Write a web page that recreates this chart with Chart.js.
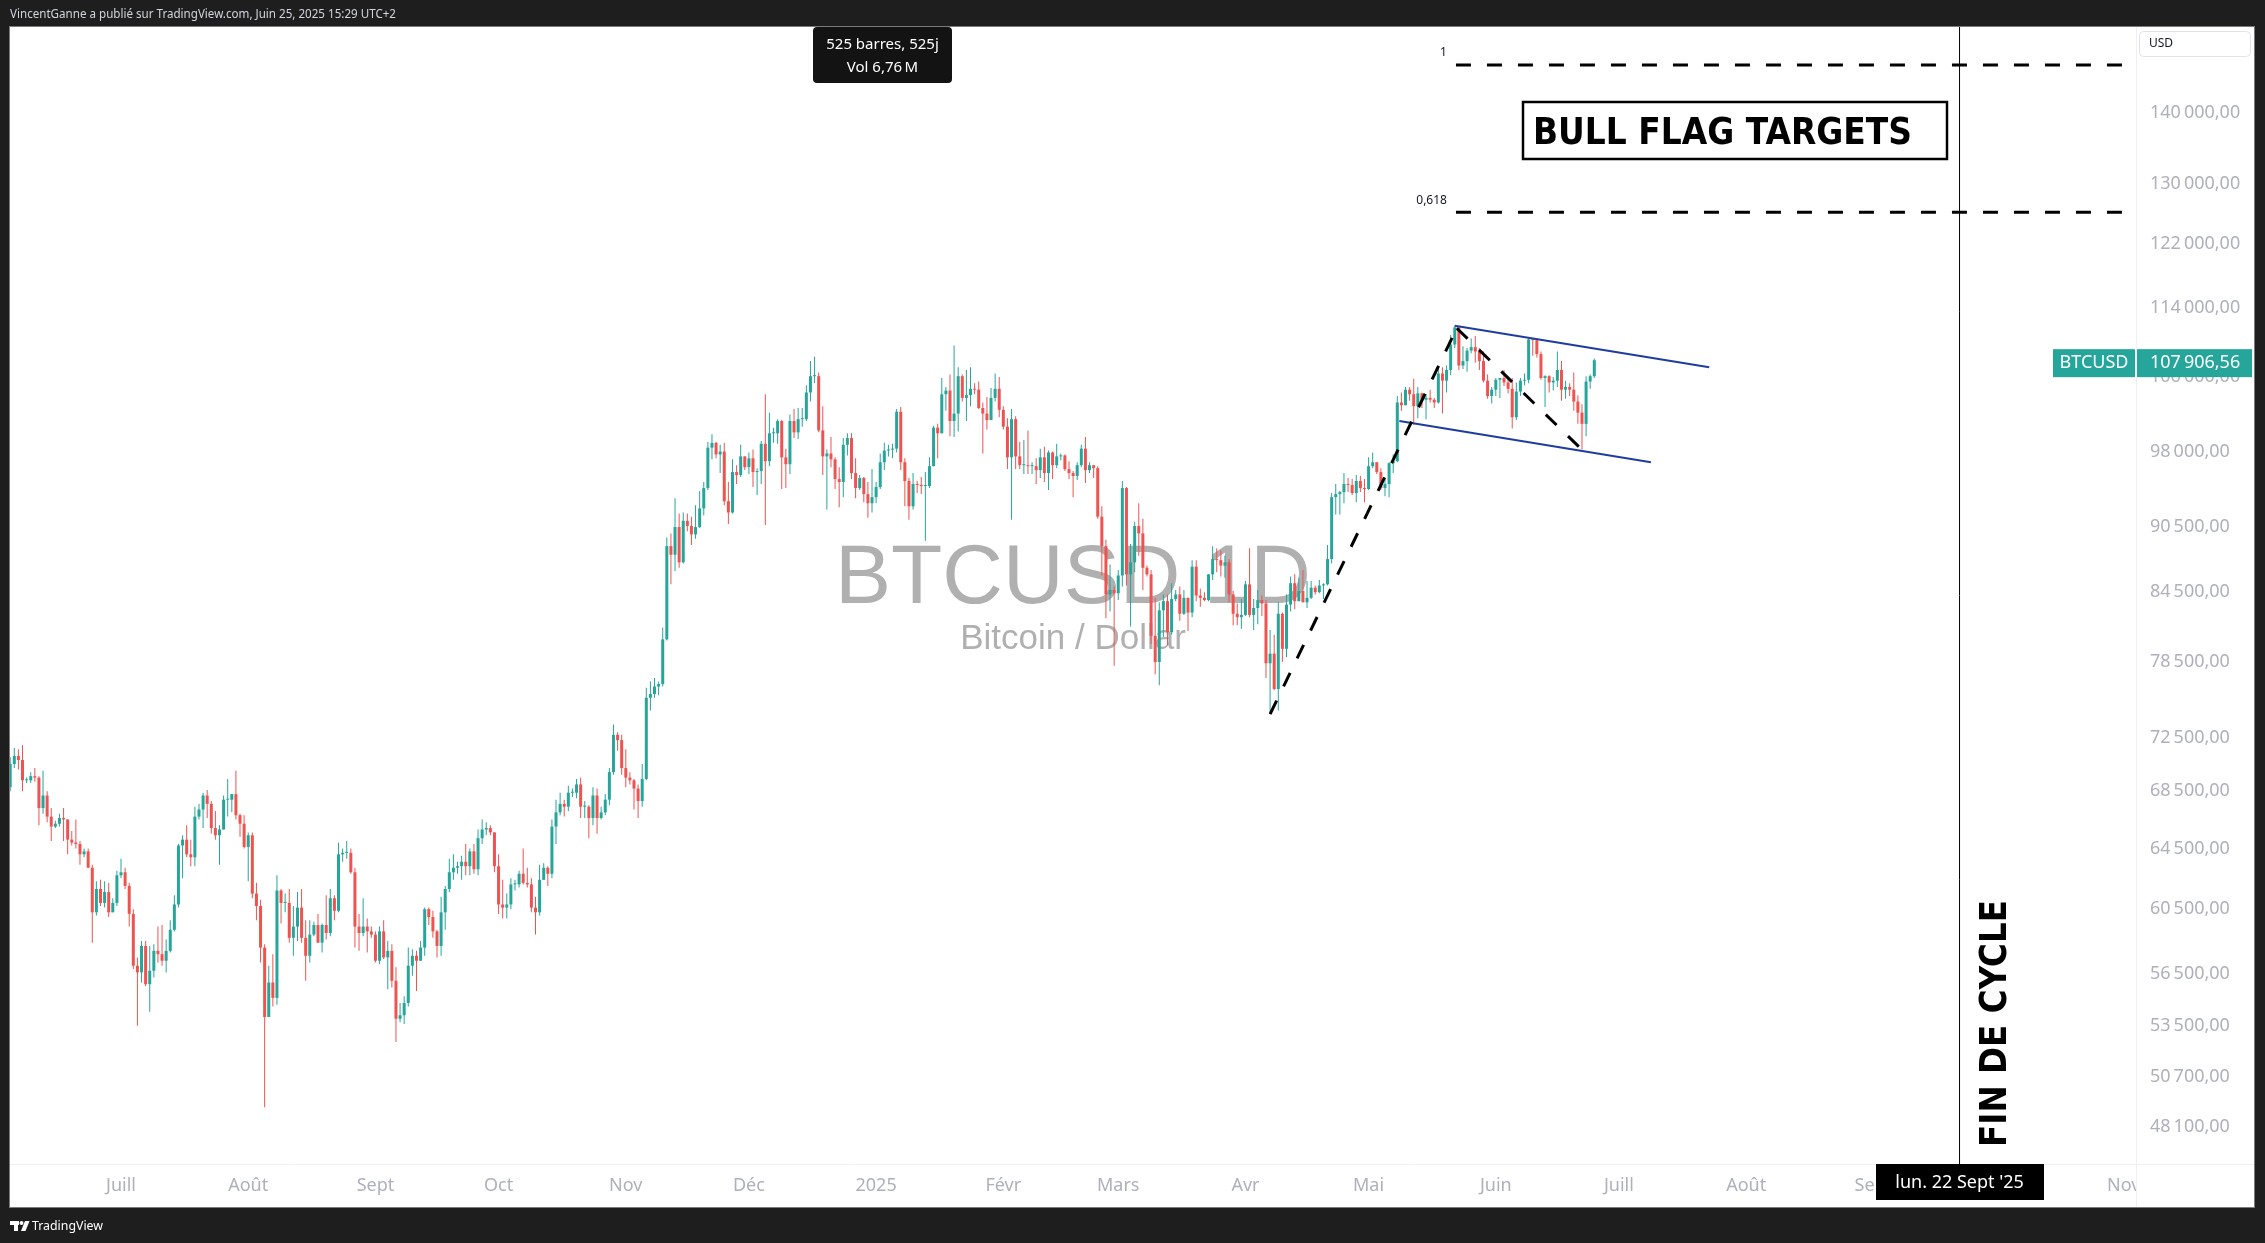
<!DOCTYPE html>
<html lang="fr">
<head>
<meta charset="utf-8">
<title>BTCUSD 1D</title>
<script src="https://cdn.jsdelivr.net/npm/chart.js@4.4.1/dist/chart.umd.min.js"></script>
<style>
  html, body { margin: 0; padding: 0; background: #1e1e1e; }
  canvas { display: block; }
</style>
</head>
<body>
<canvas id="chart" width="2265" height="1243"></canvas>
<script>
// daily candles in thousands of USD, one row per month, first candle on 2024-06-04
const firstDay = '2024-06-04';

const opens = [
  68.8,70.5,71.1,70.8,69.3,69.3,69.6,69.5,67.3,68.2,66.7,66.0,66.2,66.6,66.5,65.1,64.9,64.8,64.1,64.3,63.2,60.3,61.8,60.9,61.6,60.3,60.9,
  62.7,62.9,62.0,60.2,57.0,56.6,58.2,55.9,56.7,57.9,57.7,57.3,57.9,59.2,60.8,64.7,65.1,64.1,63.9,66.7,67.2,68.2,67.6,65.9,65.4,65.8,67.9,67.9,68.3,66.8,66.2,
  64.6,65.4,61.5,60.7,58.1,54.0,56.0,55.1,61.7,60.9,60.9,58.7,59.4,60.6,58.7,57.6,58.9,59.5,58.4,59.5,59.0,61.2,60.4,64.1,64.2,64.2,62.9,59.4,59.0,59.4,59.1,
  58.9,57.3,59.1,57.5,57.9,56.1,53.9,54.1,54.8,57.0,57.6,57.3,58.1,60.5,60.0,59.1,58.2,60.3,61.8,62.9,63.2,63.3,63.6,63.3,64.3,63.1,65.2,65.8,65.9,65.6,
  63.3,60.8,60.6,60.8,62.1,62.1,62.8,62.2,62.1,60.6,60.3,62.4,63.2,62.8,66.0,67.0,67.6,67.4,68.4,68.4,69.0,67.4,67.4,66.6,68.2,66.6,67.0,67.9,69.9,72.7,72.3,
  70.2,69.5,69.3,68.7,67.8,69.4,75.6,75.9,76.5,76.7,80.4,88.7,87.9,90.5,87.2,91.1,90.6,89.8,90.5,92.3,94.3,98.4,98.9,97.7,98.0,93.0,91.9,95.9,95.6,97.5,
  96.4,97.3,95.9,96.0,98.8,97.0,99.9,99.9,101.2,97.4,96.7,101.2,100.0,101.4,101.4,104.3,106.1,106.1,100.2,97.5,97.8,97.2,95.2,94.9,98.7,99.4,95.8,94.3,95.3,93.7,92.8,
  93.4,94.4,96.9,98.1,98.2,98.3,102.2,96.9,95.0,92.5,94.7,94.6,94.5,94.5,96.5,100.5,99.9,104.1,104.5,101.2,102.0,106.1,103.7,104.0,104.7,104.6,102.6,102.0,101.3,103.7,104.7,
  102.4,100.6,97.4,101.4,97.5,96.6,96.6,96.5,96.5,96.1,97.4,95.8,97.9,96.6,97.5,97.6,96.2,95.8,95.5,96.6,98.3,96.1,96.6,96.3,91.5,88.7,84.3,84.7,
  84.4,86.0,94.3,86.1,87.2,90.6,89.9,86.7,86.1,80.7,78.5,82.9,83.7,81.0,83.9,84.3,82.6,84.0,82.7,86.8,84.2,84.0,83.8,86.1,87.5,87.4,86.9,87.2,84.3,82.6,82.3,
  82.5,85.2,82.5,83.1,83.8,83.5,78.4,79.2,76.3,82.6,79.6,83.4,85.3,83.7,84.6,83.6,84.0,84.9,84.5,85.1,85.2,87.5,93.4,93.7,93.9,94.7,94.6,93.8,95.0,94.3,
  94.2,96.5,96.9,95.9,94.3,94.7,96.8,97.0,103.2,102.9,104.6,104.1,102.8,104.2,103.5,103.7,103.5,103.2,106.4,105.6,106.8,109.7,111.7,107.3,107.8,109.0,109.4,108.9,107.8,105.6,103.9,
  104.6,105.7,105.9,105.4,104.7,101.6,104.4,105.6,105.7,110.3,110.2,108.6,105.9,106.1,105.4,105.6,106.8,104.6,104.9,104.6,103.3,102.1,100.9,105.5,106.1
];
const highs = [
  71.0,71.7,71.6,71.9,69.5,69.9,70.2,69.6,70.0,68.5,67.3,66.4,66.9,67.3,66.5,65.7,66.5,65.0,64.5,64.5,63.4,62.3,62.4,62.3,62.2,61.2,63.0,
  63.8,63.2,62.2,60.5,57.5,58.5,58.5,58.2,58.3,59.4,59.5,58.6,59.8,61.4,64.8,65.4,66.1,65.1,67.4,67.6,68.4,68.6,67.8,67.1,66.1,68.2,69.4,68.3,70.0,66.9,66.8,
  65.6,65.6,62.2,61.1,58.3,57.0,57.7,62.7,61.8,61.5,61.8,60.7,61.6,61.8,59.8,59.8,59.7,60.2,59.6,61.4,61.8,61.4,64.9,64.5,65.0,64.5,63.2,60.2,61.2,59.9,59.4,
  59.1,59.4,59.8,58.5,58.3,56.9,54.8,55.2,58.1,58.0,57.9,58.5,60.6,60.6,60.4,59.2,61.3,62.0,63.8,64.1,63.6,64.0,64.8,64.5,64.8,65.8,66.5,66.3,66.1,65.6,
  64.1,62.4,61.5,62.5,62.4,63.0,64.5,63.2,62.5,61.3,63.4,63.5,63.3,66.5,67.9,68.4,67.9,68.9,68.7,69.4,69.5,67.8,67.5,68.8,68.7,67.4,68.3,70.2,73.5,72.9,72.7,
  71.6,69.9,69.4,69.0,70.5,76.4,76.9,77.2,76.9,81.4,89.5,89.9,93.3,91.8,91.9,91.8,91.5,92.6,94.0,94.9,99.0,99.8,99.0,98.7,98.9,94.9,97.2,96.6,98.7,97.5,
  97.9,98.2,96.3,99.1,104.1,102.1,100.5,101.4,101.3,98.3,101.9,102.5,102.6,102.6,105.1,107.8,108.3,106.5,102.8,98.2,99.5,97.4,96.4,99.4,99.9,99.9,97.3,95.6,95.4,94.9,96.2,
  94.9,97.8,98.9,98.7,98.8,102.5,102.7,97.3,95.3,95.8,95.0,95.4,95.9,97.4,100.7,100.9,105.9,104.9,106.3,109.6,107.1,106.3,106.8,107.1,105.3,105.5,103.2,103.8,104.8,106.4,106.0,
  102.8,101.5,102.5,101.7,99.0,99.2,100.2,96.9,97.3,98.3,98.5,98.1,98.0,98.8,97.8,97.7,97.0,96.0,96.9,98.7,99.5,96.9,96.6,96.5,92.5,89.3,87.0,85.0,
  86.5,95.0,94.4,88.9,91.0,92.8,91.3,86.9,86.5,84.0,83.6,84.3,84.3,85.3,84.7,85.0,84.7,84.0,87.4,87.4,84.8,84.5,86.1,88.7,88.5,88.3,87.8,87.5,84.6,83.5,83.9,
  85.5,88.5,83.9,84.7,84.2,83.8,81.2,80.8,83.6,82.7,84.3,85.9,86.1,85.8,86.5,85.5,85.5,85.1,85.6,85.3,88.8,93.8,94.7,94.0,95.8,95.3,95.2,95.6,95.5,95.2,
  97.4,97.9,96.9,96.3,95.2,96.9,97.7,103.9,104.3,104.9,104.9,105.8,104.9,104.3,104.1,104.6,103.7,107.0,107.1,107.3,110.8,111.9,111.8,109.5,109.3,110.4,110.7,109.3,108.9,106.3,104.9,
  105.9,105.9,106.8,106.0,105.9,105.4,105.9,106.4,110.5,110.4,110.4,108.9,106.2,106.2,106.0,108.9,107.8,105.6,105.3,106.5,104.0,103.0,106.1,106.3,108.1
];
const lows = [
  68.5,70.2,70.1,68.5,69.1,69.1,69.2,66.1,66.9,66.3,65.0,65.9,66.0,65.0,64.1,64.7,64.5,63.4,63.9,63.2,58.4,60.1,60.7,60.6,60.0,60.3,60.7,
  62.5,61.8,59.4,56.8,53.5,56.0,55.8,54.3,56.3,57.2,57.0,56.6,57.8,59.1,60.6,62.5,63.9,63.3,63.3,66.5,65.9,66.6,65.5,65.1,63.4,65.8,66.7,67.0,66.5,65.3,64.5,
  62.3,61.2,59.8,57.2,49.1,54.0,54.6,54.7,59.6,60.3,58.4,57.6,58.5,58.4,56.1,57.2,58.8,58.4,57.8,58.6,58.8,59.8,60.3,63.6,63.8,62.8,58.1,57.9,58.8,57.8,58.7,
  57.2,57.1,57.4,55.6,55.7,52.6,53.7,53.6,54.6,56.4,55.5,57.3,57.6,59.5,58.7,57.5,57.6,59.2,61.6,62.4,62.8,62.4,62.7,62.7,62.8,62.7,64.8,65.4,65.4,62.9,
  60.2,59.9,59.9,60.5,61.7,61.9,62.1,61.9,60.3,58.9,60.1,62.4,62.0,62.5,64.8,66.8,66.7,67.1,68.1,68.0,66.6,66.6,65.2,66.1,65.5,66.5,66.8,67.5,69.7,71.5,69.7,
  68.8,69.0,67.2,66.6,67.4,69.3,74.6,75.6,75.8,76.5,80.3,85.2,86.4,86.7,87.1,90.1,88.8,89.4,90.4,91.6,94.1,97.2,97.3,95.8,92.6,90.8,91.8,94.7,95.4,96.1,
  95.7,94.4,93.6,94.7,90.7,96.5,98.9,98.8,94.2,94.3,95.7,99.4,99.3,100.6,101.2,103.3,105.3,100.0,95.6,92.2,96.4,94.2,92.4,93.4,97.6,95.2,93.3,94.1,92.9,91.4,91.9,
  92.8,94.2,96.1,97.5,97.3,97.9,96.1,92.5,91.2,92.2,93.8,93.7,89.2,94.3,96.5,97.3,99.9,102.3,99.6,99.5,100.1,103.3,101.2,102.8,104.1,102.5,97.8,100.3,101.3,103.3,101.6,
  100.3,96.2,91.2,96.2,96.2,95.7,95.7,95.7,94.7,95.3,94.9,94.1,95.2,96.3,97.1,96.0,95.2,93.4,95.1,96.4,94.8,95.8,95.3,91.3,86.0,82.2,82.8,78.2,
  83.8,85.0,85.1,81.5,86.3,87.8,84.7,85.9,80.0,77.5,76.6,80.6,79.9,80.8,83.7,82.0,82.5,81.1,82.3,83.7,83.2,83.7,83.7,85.6,86.3,85.9,85.8,83.6,81.6,81.6,81.3,
  82.4,82.3,81.2,81.7,82.4,77.2,74.5,76.2,74.6,78.5,78.9,82.8,83.0,83.7,83.6,83.1,83.9,84.3,84.4,83.9,85.1,87.1,91.7,91.7,92.8,93.9,93.6,92.9,93.9,92.9,
  94.1,96.3,95.7,94.1,93.5,93.4,95.8,96.9,102.3,102.9,103.4,100.8,101.5,102.6,101.4,103.2,102.6,103.1,102.0,104.3,106.2,109.3,106.8,106.9,106.6,108.7,107.6,106.8,105.4,103.6,103.1,
  103.9,103.7,105.0,104.2,100.4,101.3,103.9,105.1,105.3,108.4,108.2,105.7,102.7,104.3,104.5,104.9,103.4,103.6,103.9,102.3,100.9,98.2,99.6,104.7,105.9
];
const closes = [
  70.5,71.1,70.8,69.3,69.3,69.6,69.5,67.3,68.2,66.7,66.0,66.2,66.6,66.5,65.1,64.9,64.8,64.1,64.3,63.2,60.3,61.8,60.9,61.6,60.3,60.9,62.7,
  62.9,62.0,60.2,57.0,56.6,58.2,55.9,56.7,57.9,57.7,57.3,57.9,59.2,60.8,64.7,65.1,64.1,63.9,66.7,67.2,68.2,67.6,65.9,65.4,65.8,67.9,67.9,68.3,66.8,66.2,64.6,
  65.4,61.5,60.7,58.1,54.0,56.0,55.1,61.7,60.9,60.9,58.7,59.4,60.6,58.7,57.6,58.9,59.5,58.4,59.5,59.0,61.2,60.4,64.1,64.2,64.2,62.9,59.4,59.0,59.4,59.1,58.9,
  57.3,59.1,57.5,57.9,56.1,53.9,54.1,54.8,57.0,57.6,57.3,58.1,60.5,60.0,59.1,58.2,60.3,61.8,62.9,63.2,63.3,63.6,63.3,64.3,63.1,65.2,65.8,65.9,65.6,63.3,
  60.8,60.6,60.8,62.1,62.1,62.8,62.2,62.1,60.6,60.3,62.4,63.2,62.8,66.0,67.0,67.6,67.4,68.4,68.4,69.0,67.4,67.4,66.6,68.2,66.6,67.0,67.9,69.9,72.7,72.3,70.2,
  69.5,69.3,68.7,67.8,69.4,75.6,75.9,76.5,76.7,80.4,88.7,87.9,90.5,87.2,91.1,90.6,89.8,90.5,92.3,94.3,98.4,98.9,97.7,98.0,93.0,91.9,95.9,95.6,97.5,96.4,
  97.3,95.9,96.0,98.8,97.0,99.9,99.9,101.2,97.4,96.7,101.2,100.0,101.4,101.4,104.3,106.1,106.1,100.2,97.5,97.8,97.2,95.2,94.9,98.7,99.4,95.8,94.3,95.3,93.7,92.8,93.4,
  94.4,96.9,98.1,98.2,98.3,102.2,96.9,95.0,92.5,94.7,94.6,94.5,94.5,96.5,100.5,99.9,104.1,104.5,101.2,102.0,106.1,103.7,104.0,104.7,104.6,102.6,102.0,101.3,103.7,104.7,102.4,
  100.6,97.4,101.4,97.5,96.6,96.6,96.5,96.5,96.1,97.4,95.8,97.9,96.6,97.5,97.6,96.2,95.8,95.5,96.6,98.3,96.1,96.6,96.3,91.5,88.7,84.3,84.7,84.4,
  86.0,94.3,86.1,87.2,90.6,89.9,86.7,86.1,80.7,78.5,82.9,83.7,81.0,83.9,84.3,82.6,84.0,82.7,86.8,84.2,84.0,83.8,86.1,87.5,87.4,86.9,87.2,84.3,82.6,82.3,82.5,
  85.2,82.5,83.1,83.8,83.5,78.4,79.2,76.3,82.6,79.6,83.4,85.3,83.7,84.6,83.6,84.0,84.9,84.5,85.1,85.2,87.5,93.4,93.7,93.9,94.7,94.6,93.8,95.0,94.3,94.2,
  96.5,96.9,95.9,94.3,94.7,96.8,97.0,103.2,102.9,104.6,104.1,102.8,104.2,103.5,103.7,103.5,103.2,106.4,105.6,106.8,109.7,111.7,107.3,107.8,109.0,109.4,108.9,107.8,105.6,103.9,104.6,
  105.7,105.9,105.4,104.7,101.6,104.4,105.6,105.7,110.3,110.2,108.6,105.9,106.1,105.4,105.6,106.8,104.6,104.9,104.6,103.3,102.1,100.9,105.5,106.1,107.9
];

const priceTicks = [48100, 50700, 53500, 56500, 60500, 64500, 68500, 72500, 78500, 84500, 90500, 98000, 106000, 114000, 122000, 130000, 140000];
const monthStarts = ['2024-07-01','2024-08-01','2024-09-01','2024-10-01','2024-11-01','2024-12-01','2025-01-01','2025-02-01','2025-03-01',
  '2025-04-01','2025-05-01','2025-06-01','2025-07-01','2025-08-01','2025-09-01','2025-10-01','2025-11-01'];
const monthLabels = ['Juill','Août','Sept','Oct','Nov','Déc','2025','Févr','Mars','Avr','Mai','Juin','Juill','Août','Sept','Oct','Nov'];

// drawings
const fibLabels = ['1', '0,618'];
const fibPrices = [147300, 126100];
const fibSpan = ['2025-05-22T07:00', '2025-11-04T12:00'];
const flagpole = [['2025-04-07', 74300], ['2025-05-22T12:00', 111600]];
const flagDiagonal = [['2025-05-22T12:00', 111600], ['2025-06-22T05:00', 98100]];
const channelTop = [['2025-05-22', 111900], ['2025-07-23', 107100]];
const channelBottom = [['2025-05-08T12:00', 101200], ['2025-07-08T19:00', 96900]];
const cycleEnd = '2025-09-22';
const lastPrice = 107906.56;

const UP = '#26a69a';
const DOWN = '#ef5350';
const AXIS = '#aeb1ba';
const FONT = '"Noto Sans", "Open Sans", sans-serif';
const yMin = 46250, yMax = 153300;
const xMin = -27.05, xMax = 491.0;

const origin = Date.UTC(2024, 6, 1);
function dayOf(s) {
  return (Date.parse(s.length > 10 ? s + ':00Z' : s + 'T00:00:00Z') - origin) / 864e5;
}
function pts(list) {
  return list.map(([d, p]) => ({ x: dayOf(d), y: p }));
}
function priceLabel(v) {
  const s = Math.round(v).toString();
  return s.slice(0, -3) + '\u202f' + s.slice(-3) + ',00';
}

const x0 = dayOf(firstDay);
const candles = closes.map((c, i) => ({
  x: x0 + i, o: opens[i] * 1000, h: highs[i] * 1000, l: lows[i] * 1000, c: c * 1000
}));
const candleColors = candles.map(k => k.c >= k.o ? UP : DOWN);

function lineSet(data, color, width, dash) {
  return {
    type: 'line', data, borderColor: color, borderWidth: width, borderDash: dash || [],
    pointRadius: 0, fill: false, tension: 0, order: 0
  };
}

function fitText(ctx, text, x, y, width) {
  const w = ctx.measureText(text).width;
  ctx.save();
  ctx.translate(x, y);
  ctx.scale(width / w, 1);
  ctx.fillText(text, 0, 0);
  ctx.restore();
}

const decor = {
  id: 'decor',
  beforeDraw(chart) {
    const { ctx, width, height } = chart;
    ctx.save();
    ctx.fillStyle = '#1e1e1e';
    ctx.fillRect(0, 0, width, height);
    ctx.fillStyle = '#ffffff';
    ctx.fillRect(10, 27, 2244, 1180);
    ctx.restore();
  },
  beforeDatasetsDraw(chart) {
    const { ctx, chartArea: a } = chart;
    const cx = (a.left + a.right) / 2, cy = (a.top + a.bottom) / 2;
    ctx.save();
    ctx.fillStyle = '#b0b0b0';
    ctx.textAlign = 'center';
    ctx.textBaseline = 'alphabetic';
    ctx.font = '84px "Liberation Sans", Arial, sans-serif';
    ctx.fillText('BTCUSD 1D', cx, cy + 7);
    ctx.font = '35px "Liberation Sans", Arial, sans-serif';
    ctx.fillText('Bitcoin / Dollar', cx, cy + 53);
    ctx.restore();
  },
  afterDraw(chart) {
    const { ctx, chartArea: a, scales: { x, y } } = chart;
    ctx.save();

    // price axis column below the plot, hides the cut "Nov"
    ctx.fillStyle = '#ffffff';
    ctx.fillRect(a.right + 1, a.bottom + 1, 117, 42);

    // separators and frame
    ctx.strokeStyle = '#eef0f3';
    ctx.lineWidth = 1;
    ctx.beginPath();
    ctx.moveTo(a.right + 0.5, 27); ctx.lineTo(a.right + 0.5, 1207);
    ctx.moveTo(10, a.bottom + 0.5); ctx.lineTo(2254, a.bottom + 0.5);
    ctx.stroke();
    ctx.strokeStyle = '#7a7a7a';
    ctx.strokeRect(9.5, 26.5, 2245, 1181);

    // fib level labels
    ctx.fillStyle = '#131722';
    ctx.font = '12px ' + FONT;
    ctx.textAlign = 'right';
    ctx.textBaseline = 'middle';
    fibPrices.forEach((p, i) => {
      ctx.fillText(fibLabels[i], x.getPixelForValue(dayOf(fibSpan[0])) - 9, y.getPixelForValue(p) - 12);
    });

    // BULL FLAG TARGETS box
    ctx.lineWidth = 2.5;
    ctx.strokeStyle = '#000000';
    ctx.strokeRect(1523, 102, 424, 57);
    ctx.fillStyle = '#000000';
    ctx.textAlign = 'left';
    ctx.textBaseline = 'alphabetic';
    ctx.font = 'bold 38px "DejaVu Sans", sans-serif';
    fitText(ctx, 'BULL FLAG TARGETS', 1533, 144, 379);

    // FIN DE CYCLE, vertical
    const vx = x.getPixelForValue(dayOf(cycleEnd));
    ctx.save();
    ctx.translate(vx + 46, 1147);
    ctx.rotate(-Math.PI / 2);
    ctx.font = 'bold 38px "DejaVu Sans", sans-serif';
    fitText(ctx, 'FIN DE CYCLE', 0, 0, 247);
    ctx.restore();

    // date label on the time axis
    ctx.fillStyle = '#000000';
    ctx.fillRect(Math.round(vx) - 84, a.bottom, 168, 36);
    ctx.fillStyle = '#ffffff';
    ctx.font = '18px ' + FONT;
    ctx.textAlign = 'center';
    ctx.textBaseline = 'middle';
    ctx.fillText("lun. 22 Sept '25", vx, a.bottom + 19);

    // last price label
    const py = y.getPixelForValue(lastPrice) + 3;
    ctx.fillStyle = UP;
    ctx.fillRect(2053, py - 14, 82, 28);
    ctx.fillRect(a.right + 1, py - 14, 115, 28);
    ctx.fillStyle = '#ffffff';
    ctx.font = '18px ' + FONT;
    ctx.textAlign = 'center';
    ctx.fillText('BTCUSD', 2094, py);
    ctx.textAlign = 'left';
    ctx.fillText(priceLabel(Math.floor(lastPrice)).replace(',00', ',' + lastPrice.toFixed(2).split('.')[1]), a.right + 14, py);

    // currency button
    ctx.strokeStyle = '#e0e3eb';
    ctx.lineWidth = 1;
    ctx.beginPath();
    ctx.roundRect(2139.5, 31.5, 111, 25, 4);
    ctx.stroke();
    ctx.fillStyle = '#131722';
    ctx.font = '12px ' + FONT;
    ctx.textAlign = 'left';
    ctx.fillText('USD', 2149, 44);

    // measure tooltip
    ctx.fillStyle = '#131313';
    ctx.beginPath();
    ctx.roundRect(813, 27, 139, 56, 4);
    ctx.fill();
    ctx.fillStyle = '#ffffff';
    ctx.font = '15px ' + FONT;
    ctx.textAlign = 'center';
    ctx.fillText('525 barres, 525j', 882.5, 45);
    ctx.fillText('Vol 6,76\u202fM', 882.5, 68);

    // header and footer
    ctx.fillStyle = '#d1d4dc';
    ctx.textAlign = 'left';
    ctx.font = '12px ' + FONT;
    fitText(ctx, 'VincentGanne a publié sur TradingView.com, Juin 25, 2025 15:29 UTC+2', 10, 15, 386);
    ctx.fillStyle = '#ffffff';
    ctx.fillRect(10, 1221, 9, 4);
    ctx.fillRect(14, 1221, 4, 10);
    ctx.beginPath();
    ctx.arc(21.5, 1223, 2, 0, Math.PI * 2);
    ctx.fill();
    ctx.beginPath();
    ctx.moveTo(25, 1221); ctx.lineTo(29.5, 1221); ctx.lineTo(25.5, 1231); ctx.lineTo(21, 1231);
    ctx.closePath();
    ctx.fill();
    ctx.font = '13px ' + FONT;
    fitText(ctx, 'TradingView', 32, 1226, 71);

    ctx.restore();
  }
};

new Chart(document.getElementById('chart'), {
  type: 'bar',
  data: {
    datasets: [
      ...fibPrices.map(p => lineSet([{ x: dayOf(fibSpan[0]), y: p }, { x: dayOf(fibSpan[1]), y: p }], '#000000', 3, [15, 16])),
      lineSet(pts(flagpole), '#000000', 3, [15, 16]),
      lineSet(pts(flagDiagonal), '#000000', 3, [15, 16]),
      lineSet(pts(channelTop), '#1f3d9f', 2),
      lineSet(pts(channelBottom), '#1f3d9f', 2),
      lineSet([{ x: dayOf(cycleEnd), y: yMin }, { x: dayOf(cycleEnd), y: yMax }], '#000000', 1),
      {
        type: 'bar', label: 'bodies',
        data: candles.map(k => ({ x: k.x, y: [k.o, k.c] })),
        backgroundColor: candleColors, barThickness: 3, minBarLength: 1,
        grouped: false, inflateAmount: 0, borderWidth: 0, order: 2
      },
      {
        type: 'bar', label: 'wicks',
        data: candles.map(k => ({ x: k.x, y: [k.l, k.h] })),
        backgroundColor: candleColors, barThickness: 1, minBarLength: 1,
        grouped: false, inflateAmount: 0, borderWidth: 0, order: 3
      }
    ]
  },
  options: {
    responsive: false,
    animation: false,
    devicePixelRatio: 1,
    events: [],
    layout: { padding: { left: 10, right: 11, top: 27, bottom: 36 } },
    plugins: { legend: { display: false }, tooltip: { enabled: false } },
    scales: {
      x: {
        type: 'linear', min: xMin, max: xMax, offset: false, bounds: 'data',
        grid: { display: false, drawTicks: false }, border: { display: false },
        afterFit: s => { s.height = 43; },
        afterBuildTicks: s => { s.ticks = monthStarts.map(m => ({ value: dayOf(m) })); },
        ticks: {
          autoSkip: false, maxRotation: 0, minRotation: 0, padding: 11, color: AXIS,
          font: { family: FONT, size: 18 },
          callback: (v, i) => monthLabels[i]
        }
      },
      y: {
        type: 'logarithmic', position: 'right', min: yMin, max: yMax, bounds: 'data',
        grid: { display: false, drawTicks: false }, border: { display: false },
        afterFit: s => { s.width = 118; },
        afterBuildTicks: s => { s.ticks = priceTicks.map(v => ({ value: v })); },
        ticks: {
          autoSkip: false, padding: 14, color: AXIS,
          font: { family: FONT, size: 18 },
          callback: v => priceLabel(v)
        }
      }
    }
  },
  plugins: [decor]
});
</script>
</body>
</html>
